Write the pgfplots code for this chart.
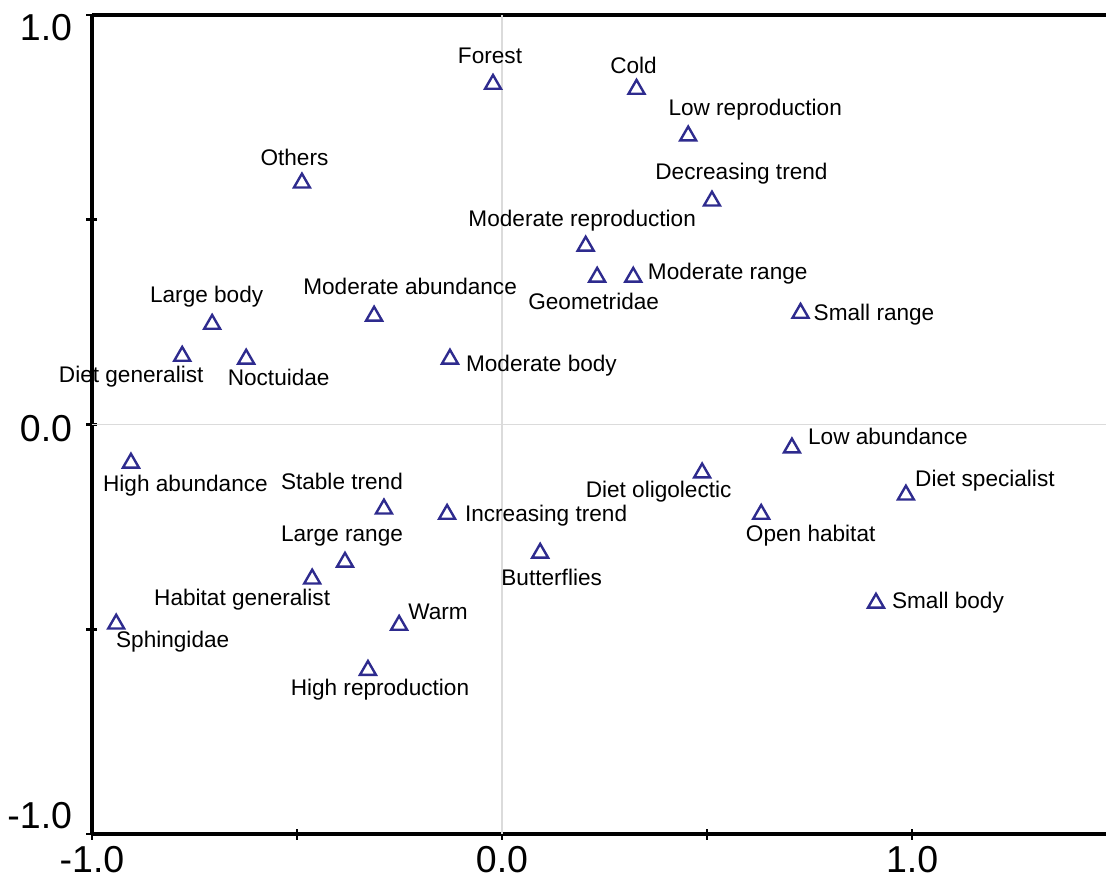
\documentclass[border=0pt]{standalone}
\usepackage{pgfplots}
\usepackage{pgfplotstable}
\usepackage{fontspec}
\setmainfont{Liberation Sans}
\pgfplotsset{compat=1.18}
\definecolor{markcol}{HTML}{2E2B8E}
\newcommand{\labfont}{\fontsize{11.3}{13}\selectfont}
\newcommand{\tickfont}{\fontsize{18.75}{22}\selectfont}

\pgfplotstableread{
x y dx dy label
-0.022 0.831 -3 21 Forest
0.328 0.819 -3 16 Cold
0.454 0.705 67 20 {Low reproduction}
0.512 0.546 29.5 21 {Decreasing trend}
0.204 0.436 -3.5 19 {Moderate reproduction}
0.232 0.360 -3.5 -32 Geometridae
0.320 0.360 94.5 -2 {Moderate range}
0.728 0.272 73.5 -7 {Small range}
-0.488 0.590 -7.5 17 Others
-0.707 0.245 -5.5 22 {Large body}
-0.312 0.265 36 21 {Moderate abundance}
-0.780 0.167 -51 -26 {Diet generalist}
-0.624 0.160 32.5 -27 Noctuidae
-0.127 0.160 91.5 -13 {Moderate body}
-0.905 -0.094 54.5 -29 {High abundance}
-0.288 -0.206 -42 19 {Stable trend}
-0.383 -0.336 -3 21 {Large range}
-0.463 -0.377 -70 -27 {Habitat generalist}
-0.941 -0.487 56.5 -24 Sphingidae
-0.251 -0.490 39 6 Warm
-0.327 -0.600 12 -25 {High reproduction}
0.707 -0.057 96 3 {Low abundance}
0.488 -0.118 -43.5 -25 {Diet oligolectic}
0.985 -0.172 79 8 {Diet specialist}
-0.134 -0.219 99 -7 {Increasing trend}
0.632 -0.219 49.5 -27 {Open habitat}
0.093 -0.314 11.5 -32 Butterflies
0.912 -0.436 72 -5 {Small body}
}\datatable

\begin{document}
\begin{tikzpicture}
\begin{axis}[
  scale only axis,
  width=507pt, height=409.5pt,
  xmin=-1, xmax=1.473, ymin=-1, ymax=1,
  axis x line=box, axis y line=left,
  axis line style={-, line width=1.6pt, black},
  xtick pos=left, ytick pos=left,
  xtick={-1,-0.5,0,0.5,1},
  ytick={-1,-0.5,0,0.5,1},
  xticklabels={-1.0,{},0.0,{},1.0},
  yticklabels={\raisebox{2.8pt}[0pt][0pt]{-1.0},{},\raisebox{-8.7pt}[0pt][0pt]{0.0},{},\raisebox{-12.7pt}[0pt][0pt]{1.0}},
  tick align=center,
  major tick length=5.5pt,
  tick style={line width=1.3pt, black},
  xticklabel style={font=\tickfont, anchor=north, inner sep=0pt, yshift=-3pt},
  yticklabel style={font=\tickfont, anchor=east, inner sep=0pt, xshift=-7pt},
  extra x ticks={0}, extra y ticks={0},
  extra x tick labels={}, extra y tick labels={},
  extra tick style={grid=major, major tick length=0pt, major grid style={line width=0.6pt, gray!28}},
  clip=false,
]
\addplot[
  only marks, mark=triangle, mark size=4.6pt, color=markcol,
  mark options={line width=1.2pt, draw=markcol},
  point meta=explicit symbolic,
  visualization depends on={0.5*\thisrow{dx} \as \dx},
  visualization depends on={0.5*\thisrow{dy} \as \dy},
  nodes near coords,
  nodes near coords style={anchor=base, font=\labfont, text=black, inner sep=0pt, xshift=\dx pt, yshift=\dy pt},
] table[x=x, y=y, meta=label] {\datatable};
\end{axis}
\pgfresetboundingbox
\useasboundingbox ([xshift=-46pt,yshift=-24.5pt]current axis.south west) rectangle ([yshift=7.5pt]current axis.north east);
\end{tikzpicture}
\end{document}
